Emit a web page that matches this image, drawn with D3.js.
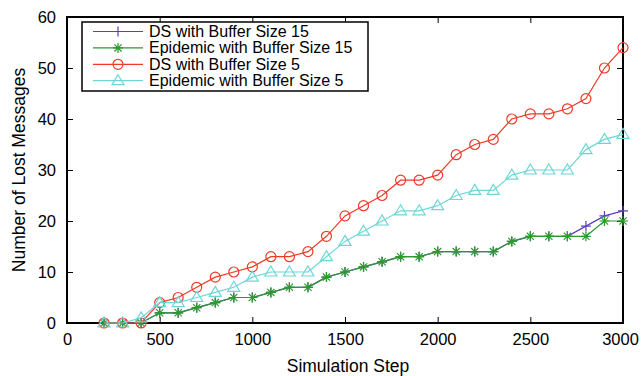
<!DOCTYPE html>
<html>
<head>
<meta charset="utf-8">
<script src="https://cdn.jsdelivr.net/npm/d3@7"></script>
<style>
  body { margin: 0; background: #fff; }
  text { font-family: "Liberation Sans", Arial, sans-serif; }
</style>
</head>
<body>
<div id="chart"></div>
<script>
// simulation steps
const steps = [200, 300, 400, 500, 600, 700, 800, 900, 1000, 1100, 1200, 1300, 1400, 1500,
  1600, 1700, 1800, 1900, 2000, 2100, 2200, 2300, 2400, 2500, 2600, 2700, 2800, 2900, 3000];

// lost messages per series
const ds15 = [0, 0, 0, 2, 2, 3, 4, 5, 5, 6, 7, 7, 9, 10, 11, 12, 13, 13, 14, 14, 14, 14, 16, 17, 17, 17, 19, 21, 22];
const epi15 = [0, 0, 0, 2, 2, 3, 4, 5, 5, 6, 7, 7, 9, 10, 11, 12, 13, 13, 14, 14, 14, 14, 16, 17, 17, 17, 17, 20, 20];
const ds5 = [0, 0, 0, 4, 5, 7, 9, 10, 11, 13, 13, 14, 17, 21, 23, 25, 28, 28, 29, 33, 35, 36, 40, 41, 41, 42, 44, 50, 54];
const epi5 = [0, 0, 1, 4, 4, 5, 6, 7, 9, 10, 10, 10, 13, 16, 18, 20, 22, 22, 23, 25, 26, 26, 29, 30, 30, 30, 34, 36, 37];

const seriesNames = ["DS with Buffer Size 15", "Epidemic with Buffer Size 15", "DS with Buffer Size 5", "Epidemic with Buffer Size 5"];
const xTicks = [0, 500, 1000, 1500, 2000, 2500, 3000];
const yTicks = [0, 10, 20, 30, 40, 50, 60];

const series = [
  { name: seriesNames[0], values: ds15, color: "#5b3fbf", marker: "plus" },
  { name: seriesNames[1], values: epi15, color: "#2a9a2a", marker: "star" },
  { name: seriesNames[2], values: ds5, color: "#ee3a26", marker: "circle" },
  { name: seriesNames[3], values: epi5, color: "#6fd6d6", marker: "triangle" }
];

const width = 641, height = 376;
const margin = { top: 17, right: 18, bottom: 53, left: 67 };

const svg = d3.select("#chart").append("svg")
  .attr("width", width)
  .attr("height", height);

const x = d3.scaleLinear().domain([0, 3000]).range([margin.left, width - margin.right]);
const y = d3.scaleLinear().domain([0, 60]).range([height - margin.bottom, margin.top]);

// ticks (inward, mirrored on top/right)
const tickLen = 6;
const gx = svg.append("g")
  .attr("transform", `translate(0,${y(0)})`)
  .call(d3.axisBottom(x).tickValues(xTicks).tickFormat(d3.format("d"))
    .tickSizeInner(-tickLen).tickSizeOuter(0).tickPadding(10));
const gxTop = svg.append("g")
  .attr("transform", `translate(0,${y(60)})`)
  .call(d3.axisTop(x).tickValues(xTicks).tickSizeInner(-tickLen).tickSizeOuter(0).tickFormat(""));
const gy = svg.append("g")
  .attr("transform", `translate(${x(0)},0)`)
  .call(d3.axisLeft(y).tickValues(yTicks).tickFormat(d3.format("d"))
    .tickSizeInner(-tickLen).tickSizeOuter(0).tickPadding(11));
const gyRight = svg.append("g")
  .attr("transform", `translate(${x(3000)},0)`)
  .call(d3.axisRight(y).tickValues(yTicks).tickSizeInner(-tickLen).tickSizeOuter(0).tickFormat(""));

[gx, gxTop, gy, gyRight].forEach(g => {
  g.select(".domain").remove();
  g.selectAll(".tick line").attr("stroke", "#000").attr("stroke-width", 1);
  g.selectAll("text")
    .style("font-family", "'Liberation Sans', Arial, sans-serif")
    .style("font-size", "16.5px")
    .attr("fill", "#000");
});
// last x label sits flush with the page edge
gx.selectAll(".tick text").filter(d => d === 3000).attr("dx", -3);

// frame
svg.append("rect")
  .attr("x", x(0)).attr("y", y(60))
  .attr("width", x(3000) - x(0)).attr("height", y(0) - y(60))
  .attr("fill", "none").attr("stroke", "#000").attr("stroke-width", 2);

// axis titles
svg.append("text")
  .attr("x", (x(0) + x(3000)) / 2 + 3).attr("y", 372)
  .attr("text-anchor", "middle")
  .style("font-size", "17.5px")
  .text("Simulation Step");

svg.append("text")
  .attr("transform", `translate(25,${(y(0) + y(60)) / 2}) rotate(-90)`)
  .attr("text-anchor", "middle")
  .style("font-size", "17.5px")
  .text("Number of Lost Messages");

// marker drawing
function drawMarker(g, type, cx, cy, color) {
  if (type === "plus") {
    g.append("path")
      .attr("d", `M${cx - 5},${cy}H${cx + 5}M${cx},${cy - 5}V${cy + 5}`)
      .attr("stroke", color).attr("stroke-width", 1.2).attr("fill", "none");
  } else if (type === "star") {
    g.append("path")
      .attr("d", `M${cx - 5},${cy}H${cx + 5}M${cx},${cy - 5}V${cy + 5}` +
        `M${cx - 3.6},${cy - 3.6}L${cx + 3.6},${cy + 3.6}M${cx - 3.6},${cy + 3.6}L${cx + 3.6},${cy - 3.6}`)
      .attr("stroke", color).attr("stroke-width", 1.2).attr("fill", "none");
  } else if (type === "circle") {
    g.append("circle")
      .attr("cx", cx).attr("cy", cy).attr("r", 5)
      .attr("stroke", color).attr("stroke-width", 1.2).attr("fill", "none");
  } else if (type === "triangle") {
    g.append("path")
      .attr("d", `M${cx},${cy - 6}L${cx + 6},${cy + 4}L${cx - 6},${cy + 4}Z`)
      .attr("stroke", color).attr("stroke-width", 1.2).attr("fill", "none");
  }
}

const line = d3.line()
  .x((d, i) => x(steps[i]))
  .y(d => y(d));

series.forEach(s => {
  const g = svg.append("g");
  g.append("path")
    .datum(s.values)
    .attr("d", line)
    .attr("fill", "none")
    .attr("stroke", s.color)
    .attr("stroke-width", 1.2);
  s.values.forEach((v, i) => drawMarker(g, s.marker, x(steps[i]), y(v), s.color));
});

// legend
const legend = svg.append("g");
legend.append("rect")
  .attr("x", 82).attr("y", 22)
  .attr("width", 286).attr("height", 69)
  .attr("fill", "#fff").attr("stroke", "#000").attr("stroke-width", 1.5);

series.forEach((s, i) => {
  const ly = 31.5 + i * 16.4;
  legend.append("line")
    .attr("x1", 93).attr("x2", 143)
    .attr("y1", ly).attr("y2", ly)
    .attr("stroke", s.color).attr("stroke-width", 1.2);
  drawMarker(legend, s.marker, 118, ly, s.color);
  legend.append("text")
    .attr("x", 149).attr("y", ly + 5.5)
    .style("font-size", "16px")
    .text(s.name);
});
</script>
</body>
</html>
